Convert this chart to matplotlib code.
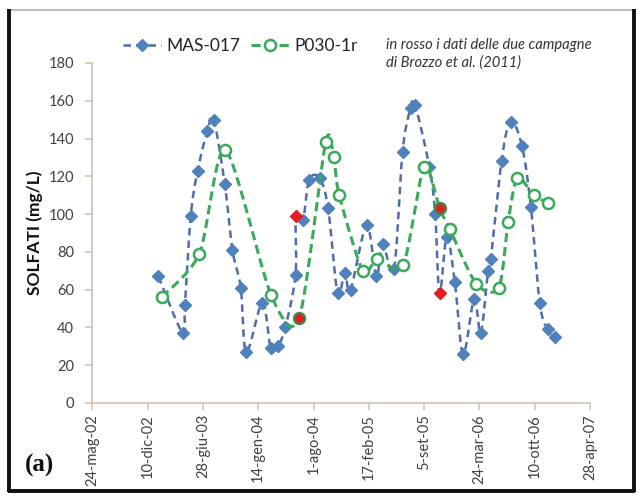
import numpy as np
import matplotlib
matplotlib.use("Agg")
import matplotlib.pyplot as plt
import matplotlib.dates as mdates
from matplotlib.lines import Line2D

# --- data -------------------------------------------------------------
mas_dates = [
    "2003-01-18", "2003-04-16", "2003-04-24", "2003-05-15", "2003-06-09",
    "2003-07-14", "2003-08-06", "2003-09-15", "2003-10-13", "2003-11-12",
    "2003-12-02", "2004-01-29", "2004-02-28", "2004-03-24", "2004-04-21",
    "2004-05-28", "2004-05-29", "2004-06-24", "2004-07-16", "2004-08-23",
    "2004-09-23", "2004-10-27", "2004-11-22", "2004-12-13", "2005-02-09",
    "2005-03-16", "2005-04-08", "2005-05-19", "2005-06-19", "2005-07-18",
    "2005-08-03", "2005-09-24", "2005-10-15", "2005-10-31", "2005-11-26",
    "2005-12-25", "2006-01-24", "2006-03-05", "2006-03-29", "2006-04-24",
    "2006-05-04", "2006-06-12", "2006-07-15", "2006-08-25", "2006-09-26",
    "2006-10-28", "2006-11-26", "2006-12-21",
]
mas_values = [
    67, 37, 52, 99, 123,
    144, 150, 116, 81, 61,
    27, 53, 29, 30, 40,
    68, 99, 97, 118, 119,
    103, 58, 69, 60, 94,
    67, 84, 71, 133, 156,
    158, 125, 100, 58, 88,
    64, 26, 55, 37, 70,
    76, 128, 149, 136, 104,
    53, 39, 35,
]
mas_brozzo = [False] * len(mas_values)
mas_brozzo[16] = True
mas_brozzo[33] = True

p030_dates = [
    "2003-01-30", "2003-06-15", "2003-09-17", "2004-03-01", "2004-06-10",
    "2004-09-14", "2004-10-13", "2004-11-02", "2005-01-26", "2005-03-19",
    "2005-06-21", "2005-09-05", "2005-10-31", "2005-12-07", "2006-03-13",
    "2006-06-02", "2006-07-06", "2006-08-08", "2006-10-08", "2006-11-27",
]
p030_values = [
    56, 79, 134, 57, 45,
    138, 130, 110, 70, 76,
    73, 125, 103, 92, 63,
    61, 96, 119, 110, 106,
]
p030_brozzo = [False] * len(p030_values)
p030_brozzo[4] = True
p030_brozzo[12] = True

tick_dates = [
    "2002-05-24", "2002-12-10", "2003-06-28", "2004-01-14", "2004-08-01",
    "2005-02-17", "2005-09-05", "2006-03-24", "2006-10-10", "2007-04-28",
]
tick_labels = [
    "24-mag-02", "10-dic-02", "28-giu-03", "14-gen-04", "1-ago-04",
    "17-feb-05", "5-set-05", "24-mar-06", "10-ott-06", "28-apr-07",
]
y_ticks = [0, 20, 40, 60, 80, 100, 120, 140, 160, 180]

# --- style ------------------------------------------------------------
plt.rcParams["font.family"] = ["Lato", "DejaVu Sans"]
BLUE = "#4F81BD"
BLUE_LINE = "#4E6DAA"
GREEN = "#3AAA5A"
RED = "#E02020"
AXIS = "#D3C5B3"
TXT = "#404040"

W, H = 639, 496
fig = plt.figure(figsize=(W / 100, H / 100), dpi=100)
fig.patch.set_facecolor("white")

left, right, top, bottom = 92.3, 590.0, 63.0, 403.0
ax = fig.add_axes([left / W, 1 - bottom / H, (right - left) / W, (bottom - top) / H])

xt = mdates.datestr2num(tick_dates)
ax.set_xlim(xt[0], xt[-1])
ax.set_ylim(0, 180)

# screen scale (pixels per data unit) used for smoothing the curves
sx = (right - left) / (xt[-1] - xt[0])
sy = (bottom - top) / 180.0


def smooth(x, y, n=24, k=6.0):
    """Bezier smoothing through every point, as spreadsheet 'smoothed lines'."""
    pts = np.column_stack([np.asarray(x) * sx, np.asarray(y) * sy])
    segs = []
    m = len(pts)
    for i in range(m - 1):
        p0 = pts[i - 1] if i > 0 else pts[i]
        p1, p2 = pts[i], pts[i + 1]
        p3 = pts[i + 2] if i + 2 < m else pts[i + 1]
        c1 = p1 + (p2 - p0) / k
        c2 = p2 - (p3 - p1) / k
        t = np.linspace(0, 1, n, endpoint=(i == m - 2))[:, None]
        segs.append((1 - t) ** 3 * p1 + 3 * (1 - t) ** 2 * t * c1
                    + 3 * (1 - t) * t ** 2 * c2 + t ** 3 * p2)
    s = np.vstack(segs)
    return s[:, 0] / sx, s[:, 1] / sy


mx = mdates.datestr2num(mas_dates)
my = np.array(mas_values, dtype=float)
px = mdates.datestr2num(p030_dates)
py = np.array(p030_values, dtype=float)
mb = np.array(mas_brozzo)
pb = np.array(p030_brozzo)

# MAS-017
cx, cy = smooth(mx, my)
ax.plot(cx, cy, color=BLUE_LINE, lw=1.8, dashes=(3, 2), zorder=2)
ax.plot(mx[~mb], my[~mb], ls="none", marker="D", ms=6, color=BLUE,
        mec=BLUE, zorder=3)
ax.plot(mx[mb], my[mb], ls="none", marker="D", ms=6, color=RED,
        mec=RED, zorder=5)

# P030-1r
cx, cy = smooth(px, py, k=7.5)
ax.plot(cx, cy, color=GREEN, lw=2.2, dashes=(3, 1.6), zorder=3.5)
ax.plot(px[~pb], py[~pb], ls="none", marker="o", ms=8, mfc="white",
        mec=GREEN, mew=1.8, zorder=4)
ax.plot(px[pb], py[pb], ls="none", marker="o", ms=8, mfc=RED,
        mec="#3E8A4A", mew=1.6, zorder=5)

# axes
for s in ("top", "right"):
    ax.spines[s].set_visible(False)
for s in ("left", "bottom"):
    ax.spines[s].set_color(AXIS)
    ax.spines[s].set_linewidth(1.3)
ax.set_xticks(xt)
ax.set_xticklabels(tick_labels, rotation=90, fontsize=10.5, color=TXT)
ax.set_yticks(y_ticks)
ax.set_yticklabels([str(v) for v in y_ticks], fontsize=10.5, color=TXT)
ax.tick_params(axis="both", color=AXIS, width=1.2, length=5)
ax.tick_params(axis="y", pad=8)
ax.tick_params(axis="x", pad=3)

fig.text(35 / W, 1 - 233 / H, "SOLFATI (mg/L)", rotation=90, ha="center",
         va="center", fontsize=12.5, fontweight="bold", color="#111111")

# legend
handles = [
    Line2D([], [], color=BLUE_LINE, lw=1.8, dashes=(3, 2), marker="D", ms=6,
           mfc=BLUE, mec=BLUE),
    Line2D([], [], color=GREEN, lw=2.2, dashes=(3, 1.6), marker="o", ms=8,
           mfc="white", mec=GREEN, mew=1.8),
]
fig.legend(handles, ["MAS-017", "P030-1r"], loc="center",
           bbox_to_anchor=(240 / W, 1 - 46 / H), ncol=2, frameon=False,
           fontsize=12.5, handlelength=2.2, handletextpad=0.3,
           columnspacing=0.6, labelcolor="#222222")

fig.text(386 / W, 1 - 54 / H,
         "in rosso i dati delle due campagne\ndi Brozzo et al. (2011)",
         ha="left", va="center", fontsize=10.6, style="italic",
         color="#333333", linespacing=1.35)

fig.text(40 / W, 1 - 465 / H, "(a)", ha="center", va="center",
         fontsize=18, fontweight="bold", family="Liberation Serif",
         color="#111111")

# frame around the panel
def fline(xs, ys, color, lw):
    fig.add_artist(Line2D([x / W for x in xs], [1 - y / H for y in ys],
                          color=color, lw=lw, solid_capstyle="butt"))

fline([9, 635], [10, 10], "#BFBFBF", 1.5)
fline([9, 9], [9, 492], "#111111", 2.8)
fline([634, 634], [9, 492], "#111111", 2.8)
fline([8, 635], [491, 491], "#111111", 2.8)

fig.savefig("out.png", dpi=100)
